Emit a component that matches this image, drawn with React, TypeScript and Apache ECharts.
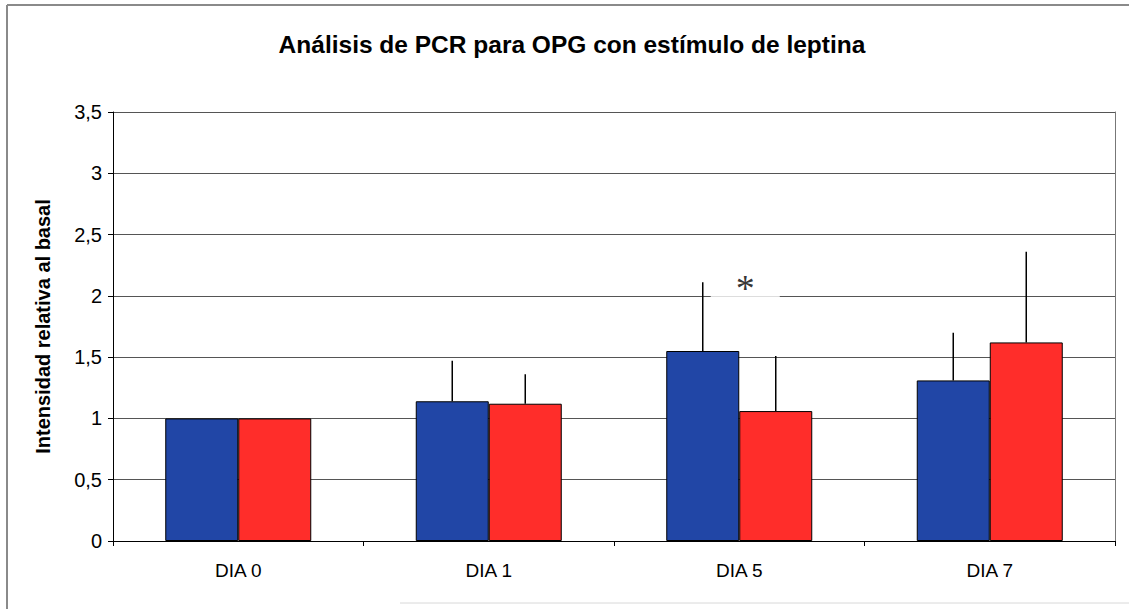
import React, { useEffect, useRef } from "react";
import * as echarts from "echarts";

const categories = ["DIA 0", "DIA 1", "DIA 5", "DIA 7"];
const blueValues = [1.0, 1.14, 1.55, 1.31];
const redValues = [1.0, 1.12, 1.06, 1.62];
const blueErrors = [0, 0.33, 0.56, 0.39];
const redErrors = [0, 0.24, 0.45, 0.74];
const yTicks = { min: 0, max: 3.5, interval: 0.5 };
const significance = [{ category: 2, value: 2.0, text: "*" }];

const titleText = "Análisis de PCR para OPG con estímulo de leptina";
const yAxisName = "Intensidad relativa al basal";

const BAR_W = 73;

function errorSeries(values: number[], errors: number[], offset: number) {
  return {
    type: "custom",
    data: values.map((v, i) => [i, v, errors[i]]),
    encode: { x: 0, y: 1 },
    z: 5,
    silent: true,
    renderItem: (params: any, api: any) => {
      const idx = api.value(0);
      const v = api.value(1);
      const e = api.value(2);
      if (!e) return null;
      const base = api.coord([idx, v]);
      const top = api.coord([idx, v + e]);
      return {
        type: "line",
        shape: { x1: base[0] + offset, y1: base[1], x2: top[0] + offset, y2: top[1] },
        style: { stroke: "#000", lineWidth: 1.5 },
      };
    },
  };
}

export default function App() {
  const ref = useRef<HTMLDivElement>(null);
  useEffect(() => {
    if (!ref.current) return;
    const chart = echarts.init(ref.current, null, { renderer: "svg" });
    const fmt = (v: number) => String(v).replace(".", ",");
    chart.setOption({
      animation: false,
      backgroundColor: "#fff",
      textStyle: { fontFamily: "Liberation Sans, Arial, sans-serif" },
      title: {
        text: titleText,
        left: 567,
        top: 27,
        textAlign: "center",
        textStyle: { fontSize: 24.5, fontWeight: "bold", color: "#000" },
      },
      grid: { left: 113, right: 14, top: 112, bottom: 68 },
      xAxis: {
        type: "category",
        data: categories,
        axisLine: { lineStyle: { color: "#000", width: 1 } },
        axisTick: { show: true, interval: 0, alignWithLabel: false, length: 5, lineStyle: { color: "#000" } },
        axisLabel: { color: "#000", fontSize: 19, margin: 20 },
        splitLine: { show: false },
      },
      yAxis: [
        {
          type: "value",
          min: yTicks.min,
          max: yTicks.max,
          interval: yTicks.interval,
          name: yAxisName,
          nameLocation: "middle",
          nameGap: 60,
          nameRotate: 90,
          nameTextStyle: { fontSize: 20, fontWeight: "bold", color: "#000" },
          axisLine: { show: true, lineStyle: { color: "#000", width: 1 } },
          axisTick: { show: true, length: 5, lineStyle: { color: "#000" } },
          axisLabel: { color: "#000", fontSize: 20, margin: 11, formatter: fmt },
          splitLine: { show: true, lineStyle: { color: "#555", width: 1 } },
        },
        {
          type: "value",
          position: "right",
          min: yTicks.min,
          max: yTicks.max,
          interval: yTicks.interval,
          axisLine: { show: true, lineStyle: { color: "#777", width: 1 } },
          axisTick: { show: false },
          axisLabel: { show: false },
          splitLine: { show: false },
        },
      ],
      series: [
        {
          type: "bar",
          data: blueValues,
          barWidth: BAR_W,
          barGap: "0%",
          itemStyle: { color: "#2146A6", borderColor: "#000", borderWidth: 1 },
        },
        {
          type: "bar",
          data: redValues,
          barWidth: BAR_W,
          barGap: "0%",
          itemStyle: { color: "#FF2D2A", borderColor: "#000", borderWidth: 1 },
        },
        errorSeries(blueValues, blueErrors, -BAR_W / 2),
        errorSeries(redValues, redErrors, BAR_W / 2),
        {
          type: "scatter",
          data: significance.map((s) => [s.category, s.value]),
          symbolSize: 0,
          z: 10,
          silent: true,
          label: {
            show: true,
            position: "inside",
            offset: [6, -8],
            formatter: () => significance[0].text,
            fontFamily: "Liberation Serif, serif",
            fontSize: 38,
            lineHeight: 28,
            color: "#000",
            backgroundColor: "#fff",
            padding: [4, 25, 2, 25],
          },
        },
      ],
      graphic: [
        { type: "line", shape: { x1: 7, y1: 5, x2: 7, y2: 609 }, style: { stroke: "#8a8a8a", lineWidth: 2 } },
        { type: "line", shape: { x1: 7, y1: 5, x2: 1129, y2: 5 }, style: { stroke: "#8a8a8a", lineWidth: 2 } },
        { type: "line", shape: { x1: 400, y1: 603, x2: 1129, y2: 603 }, style: { stroke: "#d8d8d8", lineWidth: 1 } },
      ],
    });
    return () => chart.dispose();
  }, []);
  return (
    <div
      ref={ref}
      style={{ position: "absolute", left: 0, top: 0, width: 1129, height: 609 }}
    />
  );
}
